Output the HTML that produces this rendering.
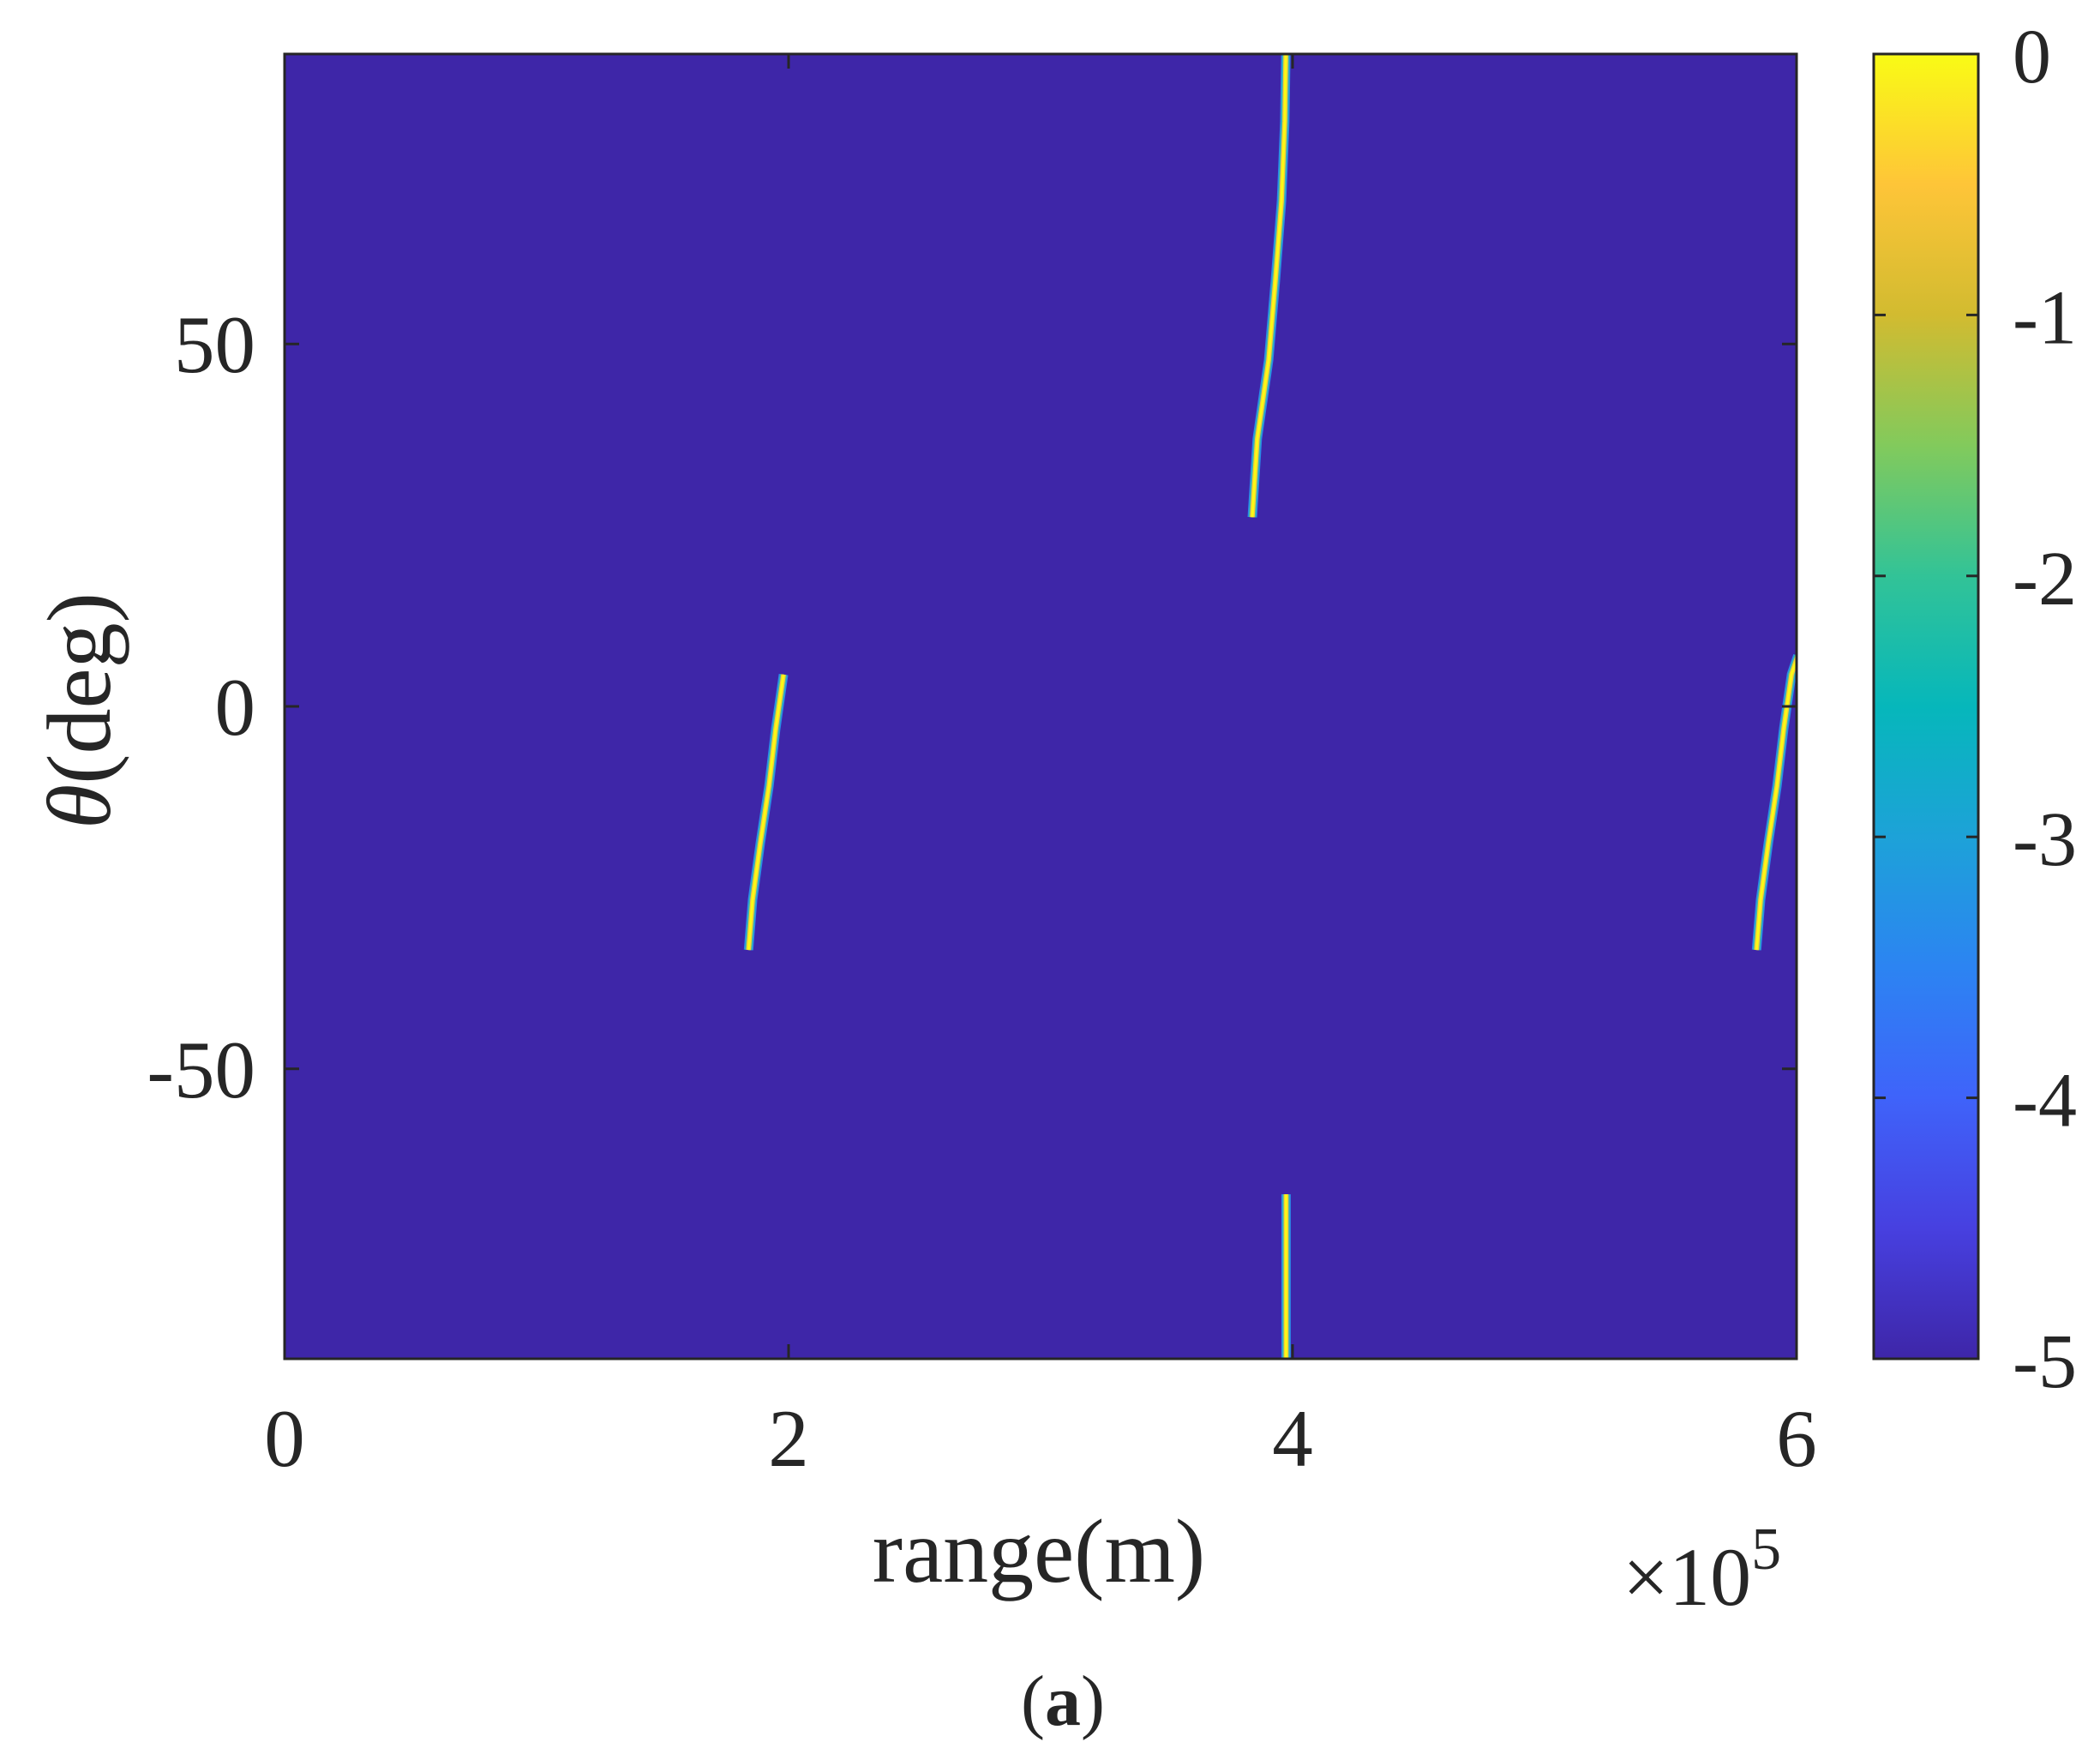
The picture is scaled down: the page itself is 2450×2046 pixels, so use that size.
<!DOCTYPE html>
<html><head><meta charset="utf-8"><style>
html,body{margin:0;padding:0;background:#fff;}
svg text{font-family:"Liberation Serif",serif;fill:#262626;}
</style></head><body>
<svg width="2450" height="2041" viewBox="0 0 2450 2041" xmlns="http://www.w3.org/2000/svg">
<defs>
<linearGradient id="parula" x1="0" y1="1" x2="0" y2="0">
<stop offset="0" stop-color="#3e26a8"/><stop offset="0.1" stop-color="#4740e0"/>
<stop offset="0.2" stop-color="#3f63fa"/><stop offset="0.3" stop-color="#2c84f2"/>
<stop offset="0.4" stop-color="#1da2d8"/><stop offset="0.5" stop-color="#06b7bb"/>
<stop offset="0.6" stop-color="#32c397"/><stop offset="0.7" stop-color="#82ca5c"/>
<stop offset="0.8" stop-color="#d2bb30"/><stop offset="0.9" stop-color="#fec538"/>
<stop offset="1" stop-color="#f9fb15"/>
</linearGradient>
<clipPath id="plotclip"><rect x="332" y="63" width="1764" height="1522"/></clipPath>
</defs>
<rect x="332" y="63" width="1764" height="1522" fill="#3e26a8"/>
<g id="stripes" clip-path="url(#plotclip)"></g>
<g id="axes"></g>
<rect x="2186" y="63" width="122" height="1522" fill="url(#parula)" stroke="#262626" stroke-width="3"/>
<g id="cbticks"></g>
<text x="1212" y="1845" font-size="106" text-anchor="middle">range(m)</text>
<text x="1893" y="1872" font-size="96">×10<tspan dy="-42" font-size="70">5</tspan></text>
<text transform="translate(128,829) rotate(-90)" font-size="106" text-anchor="middle"><tspan font-style="italic">θ</tspan>(deg)</text>
<text x="1240" y="2012" font-size="84" text-anchor="middle">(<tspan font-weight="bold">a</tspan>)</text>
</svg>
<script>
const xTicks=[0,200000,400000,600000];
const xTickLabels=["0","2","4","6"];
const yTicks=[-50,0,50];
const yTickLabels=["-50","0","50"];
const cbTicks=[0,-1,-2,-3,-4,-5];
const cbTickLabels=["0","-1","-2","-3","-4","-5"];
const stripe1R=[184100,185700,188800,192200,194900,198000];
const stripe1T=[-33.6,-26.7,-18.8,-11,-3.1,4.4];
const stripe2R=[384000,386000,390500,393200,395600,396900,397300];
const stripe2T=[26.1,36.9,47.8,58.8,69.7,80.7,90];
const stripe3R=[397400,397400];
const stripe3T=[-67.3,-90];
const stripe4R=[584100,585700,588800,592200,594900,598000,600500];
const stripe4T=[-33.6,-26.7,-18.8,-11,-3.1,4.4,7];
const X0=332,X1=2096,Y0=63,Y1=1585;
const xs=r=>X0+(r-0)/(600000-0)*(X1-X0);
const ys=t=>Y1-(t+90)/180*(Y1-Y0);
const cs=v=>Y1-(v+5)/5*(Y1-Y0);
const NS="http://www.w3.org/2000/svg";
function mk(tag,attrs,parent){const e=document.createElementNS(NS,tag);for(const k in attrs)e.setAttribute(k,attrs[k]);parent.appendChild(e);return e;}
const sg=document.getElementById('stripes');
[[stripe1R,stripe1T],[stripe2R,stripe2T],[stripe3R,stripe3T],[stripe4R,stripe4T]].forEach((s,i)=>{
  const pts=s[0].map((r,j)=>xs(r).toFixed(1)+','+ys(s[1][j]).toFixed(1)).join(' ');
  [[11,'#2a8ae8'],[8,'#40c0a0'],[5.5,'#fdc838'],[3,'#f9fb15']].forEach(st=>{
    const p=mk('polyline',{points:pts,fill:'none',stroke:st[1],'stroke-width':st[0],'stroke-linecap':'butt','stroke-linejoin':'round'},sg);
    
    
  });
});
const ax=document.getElementById('axes');
const fr=mk('rect',{x:X0,y:Y0,width:X1-X0,height:Y1-Y0,fill:'none',stroke:'#262626','stroke-width':3},ax);


xTicks.forEach((v,i)=>{
  const x=xs(v);
  mk('line',{x1:x,y1:Y1,x2:x,y2:Y1-17,stroke:'#262626','stroke-width':3},ax);
  mk('line',{x1:x,y1:Y0,x2:x,y2:Y0+17,stroke:'#262626','stroke-width':3},ax);
  const t=mk('text',{x:x,y:1710,'font-size':95,'text-anchor':'middle'},ax);
  t.textContent=xTickLabels[i];
  
  
});
yTicks.forEach((v,i)=>{
  const y=ys(v);
  mk('line',{x1:X0,y1:y,x2:X0+17,y2:y,stroke:'#262626','stroke-width':3},ax);
  mk('line',{x1:X1,y1:y,x2:X1-17,y2:y,stroke:'#262626','stroke-width':3},ax);
  const t=mk('text',{x:298,y:y+33,'font-size':95,'text-anchor':'end'},ax);
  t.textContent=yTickLabels[i];
  
  
});
const cg=document.getElementById('cbticks');
cbTicks.forEach((v,i)=>{
  const y=cs(v);
  mk('line',{x1:2308,y1:y,x2:2294,y2:y,stroke:'#262626','stroke-width':3},cg);
  mk('line',{x1:2186,y1:y,x2:2200,y2:y,stroke:'#262626','stroke-width':3},cg);
  const t=mk('text',{x:2348,y:y+33,'font-size':90},cg);
  t.textContent=cbTickLabels[i];
  
  
});
</script>
</body></html>
